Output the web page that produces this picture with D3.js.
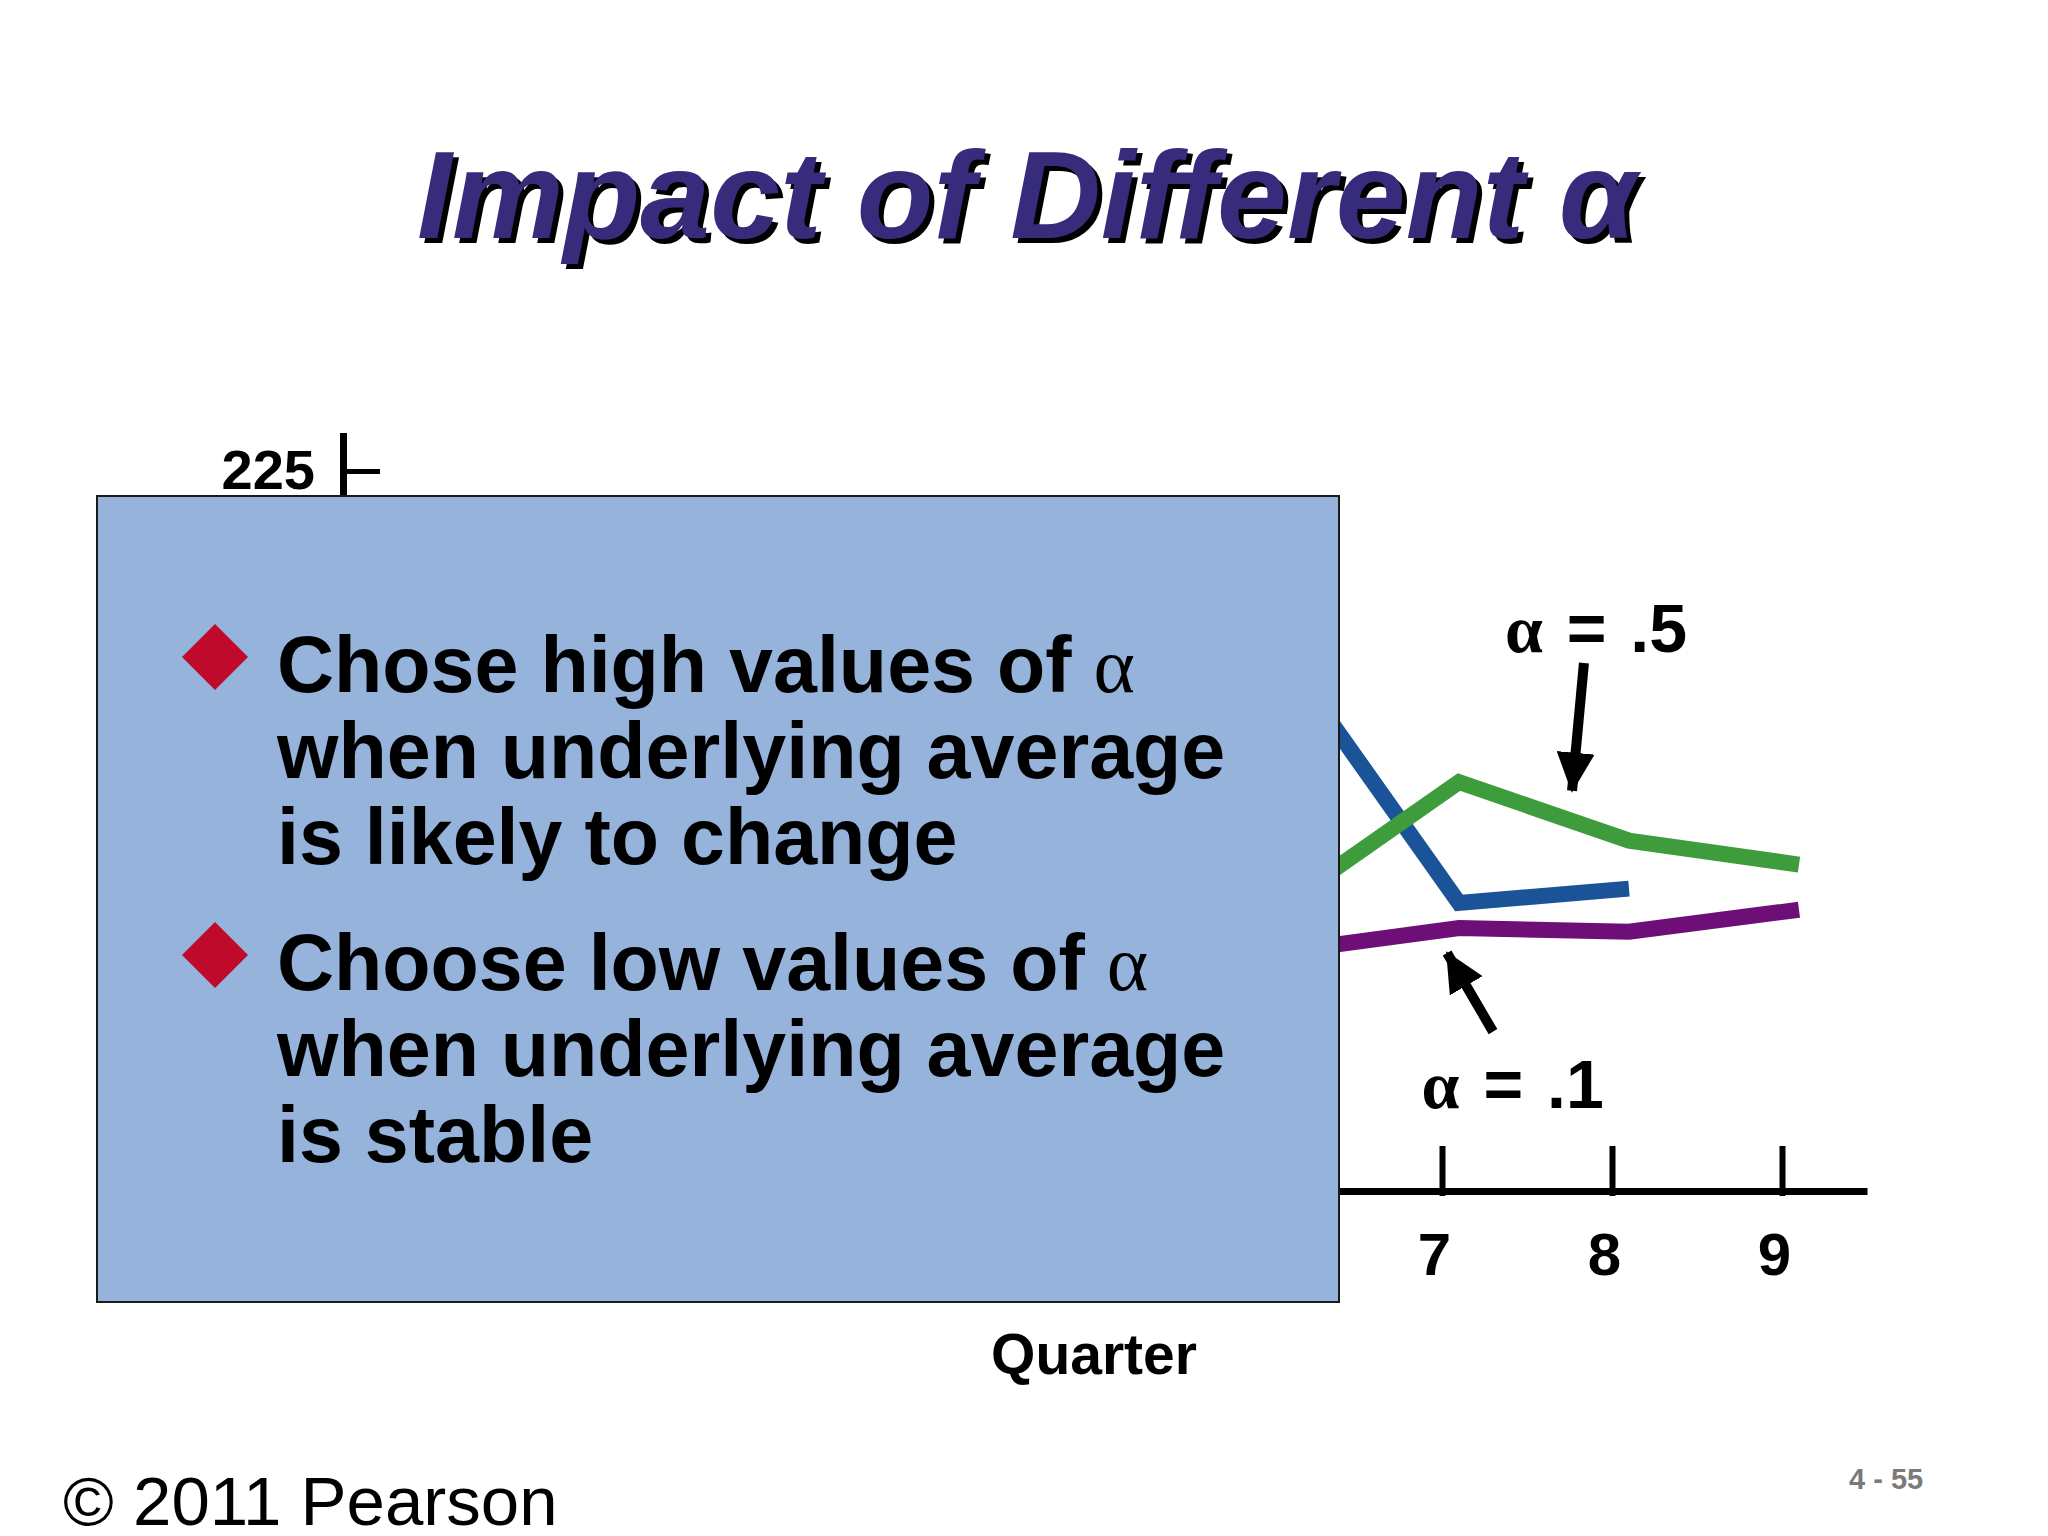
<!DOCTYPE html>
<html>
<head>
<meta charset="utf-8">
<script src="https://cdn.jsdelivr.net/npm/d3@7"></script>
<style>
body { margin: 0; background: #fff; }
text { font-family: "Liberation Sans", Arial, sans-serif; }
</style>
</head>
<body>
<div id="chart"></div>
<script>
//Data
const quarters = [1, 2, 3, 4, 5, 6, 7, 8, 9];
const actualDemand = [180, 168, 159, 175, 190, 205, 180, 181.5];
const forecastAlpha10 = [175, 175.5, 174.75, 173.18, 173.36, 175.02, 177.4, 177.0, 179.3];
const forecastAlpha50 = [175, 177.5, 172.75, 165.88, 170.44, 180.22, 192.6, 186.5, 184.0];
const yTickValues = [150, 175, 200, 225];
const bulletLines = [
    ['Chose high values of α', 'when underlying average', 'is likely to change'],
    ['Choose low values of α', 'when underlying average', 'is stable']
];

//General config
const width = 2048;
const height = 1536;
const seriesConfig = [
    {name: 'actual', values: actualDemand, color: '#1b5398'},
    {name: 'alpha50', values: forecastAlpha50, color: '#3f9c3d'},
    {name: 'alpha10', values: forecastAlpha10, color: '#6d0f77'}
];

const svg = d3.select('#chart').append('svg')
    .attr('width', width)
    .attr('height', height)
    .style('background', '#fff');

//Scales
const x = d3.scaleLinear().domain([0.5, 9.5]).range([354, 1884]);
const y = d3.scaleLinear().domain([150, 229]).range([1191, 432.6]);

//Title with drop shadow
const titleText = 'Impact of Different α';
[['#000', 5], ['#372c7b', 0]].forEach(([fill, off]) => {
    svg.append('text')
        .attr('x', 417 + off)
        .attr('y', 238 + off)
        .attr('font-size', 124)
        .attr('font-weight', 'bold')
        .attr('font-style', 'italic')
        .attr('textLength', 1220)
        .attr('lengthAdjust', 'spacingAndGlyphs')
        .attr('fill', fill)
        .text(titleText);
});

//Lines
const line = d3.line()
    .x((d, i) => x(quarters[i]))
    .y(d => y(d));

svg.selectAll('.series')
    .data(seriesConfig)
    .enter()
    .append('path')
    .attr('class', 'series')
    .attr('d', d => line(d.values))
    .attr('fill', 'none')
    .attr('stroke', d => d.color)
    .attr('stroke-width', 16)
    .attr('stroke-linejoin', 'miter');

//Y axis
const yAxis = d3.axisLeft(y)
    .tickValues(yTickValues)
    .tickSizeInner(-37)
    .tickSizeOuter(0)
    .tickPadding(28);

const yG = svg.append('g')
    .attr('transform', 'translate(343, 0)')
    .call(yAxis);
yG.select('.domain').attr('stroke', '#000').attr('stroke-width', 7);
yG.selectAll('.tick line').attr('stroke', '#000').attr('stroke-width', 5);
yG.selectAll('.tick text')
    .attr('font-family', '"Liberation Sans", Arial, sans-serif')
    .attr('font-size', 56)
    .attr('font-weight', 'bold')
    .attr('fill', '#000');

//X axis
const xAxis = d3.axisBottom(x)
    .tickValues(quarters)
    .tickSizeInner(-45)
    .tickSizeOuter(0)
    .tickPadding(41)
    .tickFormat(d3.format('d'));

const xG = svg.append('g')
    .attr('transform', `translate(-17, ${y(150)})`)
    .call(xAxis);
xG.select('.domain').attr('stroke', '#000').attr('stroke-width', 7);
xG.selectAll('.tick line').attr('stroke', '#000').attr('stroke-width', 6).attr('y1', 5);
xG.selectAll('.tick text')
    .attr('dx', -8)
    .attr('font-family', '"Liberation Sans", Arial, sans-serif')
    .attr('font-size', 60)
    .attr('font-weight', 'bold')
    .attr('fill', '#000');

//Axis title
svg.append('text')
    .attr('x', 1094)
    .attr('y', 1374)
    .attr('text-anchor', 'middle')
    .attr('font-size', 57)
    .attr('font-weight', 'bold')
    .text('Quarter');

//Arrow marker
svg.append('defs').append('marker')
    .attr('id', 'head')
    .attr('markerUnits', 'userSpaceOnUse')
    .attr('viewBox', '0 0 40 38')
    .attr('refX', 38)
    .attr('refY', 19)
    .attr('markerWidth', 40)
    .attr('markerHeight', 38)
    .attr('orient', 'auto')
    .append('path')
    .attr('d', 'M0,0 L40,19 L0,38 Z')
    .attr('fill', '#000');

//Annotations (anchored in quarter / demand units)
const annotations = [
    {label: '= .5', textAt: [7.27, 206.1], from: [7.735, 205], to: [7.665, 191.7]},
    {label: '= .1', textAt: [6.78, 158.6], from: [7.2, 166.6], to: [6.93, 174.8]}
];

annotations.forEach(a => {
    svg.append('line')
        .attr('x1', x(a.from[0])).attr('y1', y(a.from[1]))
        .attr('x2', x(a.to[0])).attr('y2', y(a.to[1]))
        .attr('stroke', '#000')
        .attr('stroke-width', 10)
        .attr('marker-end', 'url(#head)');
    const t = svg.append('text')
        .attr('x', x(a.textAt[0]))
        .attr('y', y(a.textAt[1]))
        .attr('font-size', 68)
        .attr('font-weight', 'bold')
        .attr('word-spacing', 5);
    t.append('tspan').attr('font-family', '"Liberation Serif", serif').text('α');
    t.append('tspan').text(' ' + a.label);
});

//Overlay box
svg.append('rect')
    .attr('x', 97)
    .attr('y', 496)
    .attr('width', 1242)
    .attr('height', 806)
    .attr('fill', '#95b3db')
    .attr('stroke', '#1a1a1a')
    .attr('stroke-width', 2);

const bulletTop = [692, 990];
const lineStep = 86;

bulletLines.forEach((lines, bi) => {
    const by = bulletTop[bi];
    svg.append('path')
        .attr('d', `M215,${by - 68} L248,${by - 35} L215,${by - 2} L182,${by - 35} Z`)
        .attr('fill', '#c00a2b');
    lines.forEach((s, li) => {
        const t = svg.append('text')
            .attr('x', 277)
            .attr('y', by + li * lineStep)
            .attr('font-size', 79)
            .attr('font-weight', 'bold')
            .attr('fill', '#000');
        const parts = s.split('α');
        parts.forEach((p, pi) => {
            t.append('tspan').text(p);
            if (pi < parts.length - 1) {
                t.append('tspan').attr('font-family', '"Liberation Serif", serif').attr('font-weight', 'normal').text('α');
            }
        });
    });
});

//Footer
svg.append('text')
    .attr('x', 63)
    .attr('y', 1525)
    .attr('font-size', 69)
    .text('© 2011 Pearson');

svg.append('text')
    .attr('x', 1849)
    .attr('y', 1489)
    .attr('font-size', 29)
    .attr('font-weight', 'bold')
    .attr('fill', '#7a7a7a')
    .text('4 - 55');
</script>
</body>
</html>
